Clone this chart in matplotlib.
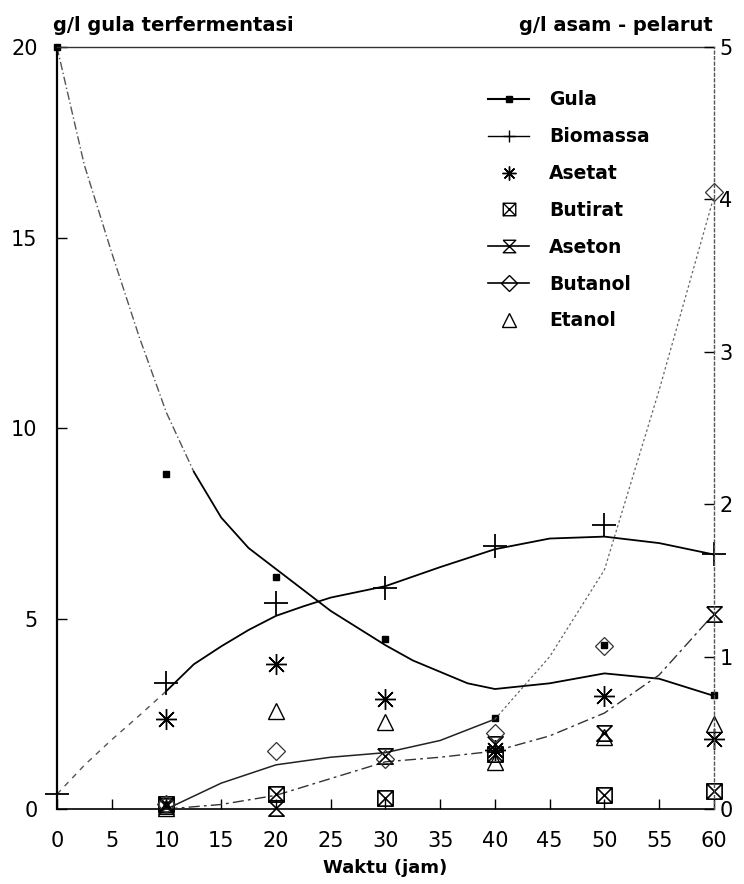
import matplotlib
matplotlib.use("Agg")
import matplotlib.pyplot as plt
from matplotlib.path import Path
from matplotlib.lines import Line2D

# sampling times (jam)
jam = [0, 10, 20, 30, 40, 50, 60]
jam_produk = [10, 20, 30, 40, 50, 60]

# measured points, left axis (g/l)
gula = [20, 8.8, 6.1, 4.45, 2.4, 4.3, 3.0]
biomassa = [0.4, 3.3, 5.4, 5.8, 6.9, 7.45, 6.7]

# measured points, right axis (g/l asam - pelarut)
asetat = [0.59, 0.95, 0.72, 0.39, 0.74, 0.46]
butirat = [0.03, 0.10, 0.07, 0.36, 0.09, 0.12]
aseton = [0.02, 0.01, 0.35, 0.43, 0.50, 1.28]
butanol = [0.03, 0.38, 0.33, 0.50, 1.07, 4.05]
etanol = [0.01, 0.64, 0.57, 0.31, 0.47, 0.56]

# fitted curves
gula_fit_x = [0, 2.5, 5, 7.5, 10, 12.5, 15, 17.5, 20, 22.5, 25, 27.5, 30, 32.5, 35, 37.5, 40, 45, 50, 55, 60]
gula_fit = [20, 16.9, 14.6, 12.4, 10.4, 8.85, 7.65, 6.85, 6.3, 5.75, 5.2, 4.75, 4.3, 3.9, 3.6, 3.3, 3.15, 3.3, 3.56, 3.42, 2.97]
bio_fit_x = [0, 2.5, 5, 7.5, 10, 12.5, 15, 17.5, 20, 22.5, 25, 30, 35, 40, 45, 50, 55, 60]
bio_fit = [0.39, 1.15, 1.82, 2.45, 3.1, 3.8, 4.27, 4.7, 5.07, 5.32, 5.55, 5.85, 6.35, 6.82, 7.1, 7.15, 6.98, 6.68]
prod_fit_x = [10, 15, 20, 25, 30, 35, 40, 45, 50, 55, 60]
aseton_fit = [0, 0.03, 0.09, 0.2, 0.31, 0.34, 0.38, 0.48, 0.63, 0.88, 1.28]
butanol_fit = [0, 0.17, 0.29, 0.34, 0.37, 0.45, 0.59, 1.0, 1.57, 2.75, 4.02]

plt.rcParams['font.family'] = ['DejaVu Sans']

# custom markers
hourglass = Path([(-1, 1), (1, 1), (-1, -1), (1, -1), (-1, 1)],
                 [Path.MOVETO, Path.LINETO, Path.LINETO, Path.LINETO, Path.LINETO])
boxcross = Path([(-1, -1), (1, -1), (1, 1), (-1, 1), (-1, -1), (1, 1), (-1, 1), (1, -1)],
                [Path.MOVETO, Path.LINETO, Path.LINETO, Path.LINETO, Path.LINETO,
                 Path.LINETO, Path.MOVETO, Path.LINETO])
asterisk = (8, 2, 0)

fig = plt.figure(figsize=(7.44, 8.84), dpi=100)
ax = fig.add_axes([0.0766, 0.0848, 0.883, 0.862])
ax2 = ax.twinx()

ax.set_xlim(0, 60)
ax.set_ylim(0, 20)
ax2.set_ylim(0, 5)

k = 'black'
# fitted curves
ax.plot(gula_fit_x[:6], gula_fit[:6], color='#555555', lw=1.0, ls=(0, (6, 2, 1, 2)))
ax.plot(gula_fit_x[5:], gula_fit[5:], color=k, lw=1.3)
ax.plot(bio_fit_x[:5], bio_fit[:5], color='#555555', lw=1.0, ls=(0, (4, 4)))
ax.plot(bio_fit_x[4:], bio_fit[4:], color=k, lw=1.3)
ax2.plot(prod_fit_x, aseton_fit, color='#333333', lw=1.0, ls=(0, (8, 3, 2, 3)))
ax2.plot(prod_fit_x[:7], butanol_fit[:7], color='#222222', lw=1.1)
ax2.plot(prod_fit_x[6:], butanol_fit[6:], color='#666666', lw=0.9, ls=(0, (2, 2)))

# measured points
ax.plot(jam, gula, ls='none', marker='s', ms=4, color=k, clip_on=False)
ax.plot(jam, biomassa, ls='none', marker='+', ms=17, mew=1.3, color=k, clip_on=False)
ax2.plot(jam_produk, asetat, ls='none', marker=asterisk, ms=15, mew=1.0, color=k, clip_on=False)
ax2.plot(jam_produk, butirat, ls='none', marker=boxcross, ms=11, mew=1.2, mfc='none', color=k, clip_on=False)
ax2.plot(jam_produk, aseton, ls='none', marker=hourglass, ms=11, mew=1.2, mfc='none', color=k, clip_on=False)
ax2.plot(jam_produk, butanol, ls='none', marker='D', ms=9, mew=0.9, mfc='none', color='#333333', clip_on=False)
ax2.plot(jam_produk, etanol, ls='none', marker='^', ms=12, mew=1.0, mfc='none', color=k, clip_on=False)

# axes styling
ax.set_xticks(range(0, 61, 5))
ax.set_yticks([0, 5, 10, 15, 20])
ax2.set_yticks([0, 1, 2, 3, 4, 5])
ax.tick_params(axis='both', direction='in', length=7, width=1, labelsize=15, colors=k)
ax.tick_params(axis='x', pad=16)
ax.tick_params(axis='y', pad=14)
ax2.tick_params(axis='y', direction='in', length=7, width=1, labelsize=15, pad=4)

ax.spines['right'].set_visible(False)
for s in ['left', 'top', 'bottom']:
    ax2.spines[s].set_visible(False)
ax.spines['left'].set_linewidth(1.6)
ax.spines['bottom'].set_linewidth(1.2)
ax.spines['top'].set_linewidth(1.0)
ax.spines['top'].set_color('#333333')
ax2.spines['right'].set_linestyle((0, (2, 2)))
ax2.spines['right'].set_linewidth(1.0)
ax2.spines['right'].set_color('#555555')

# axis titles
fig.text(0.071, 0.971, 'g/l gula terfermentasi', fontsize=14, weight='bold', ha='left', va='center')
fig.text(0.958, 0.971, 'g/l asam - pelarut', fontsize=14, weight='bold', ha='right', va='center')
fig.text(0.518, 0.018, 'Waktu (jam)', fontsize=13, weight='bold', ha='center', va='center')

# legend
handles = [
    Line2D([], [], color=k, lw=1.5, marker='s', ms=4),
    Line2D([], [], color=k, lw=1.0, marker='+', ms=9),
    Line2D([], [], ls='none', color=k, marker=asterisk, ms=10),
    Line2D([], [], ls='none', color=k, marker=boxcross, ms=9, mfc='none'),
    Line2D([], [], color=k, lw=1.2, marker=hourglass, ms=9, mfc='none'),
    Line2D([], [], color=k, lw=1.2, marker='D', ms=8, mfc='none'),
    Line2D([], [], ls='none', color=k, marker='^', ms=10, mfc='none'),
]
labels = ['Gula', 'Biomassa', 'Asetat', 'Butirat', 'Aseton', 'Butanol', 'Etanol']
ax2.legend(handles, labels, loc='upper left', bbox_to_anchor=(0.656, 0.943),
           frameon=False, borderpad=0, borderaxespad=0, handlelength=2.2,
           handletextpad=1.05, labelspacing=0.95,
           prop={'weight': 'bold', 'size': 13.5})

fig.savefig('out.png', dpi=100)
